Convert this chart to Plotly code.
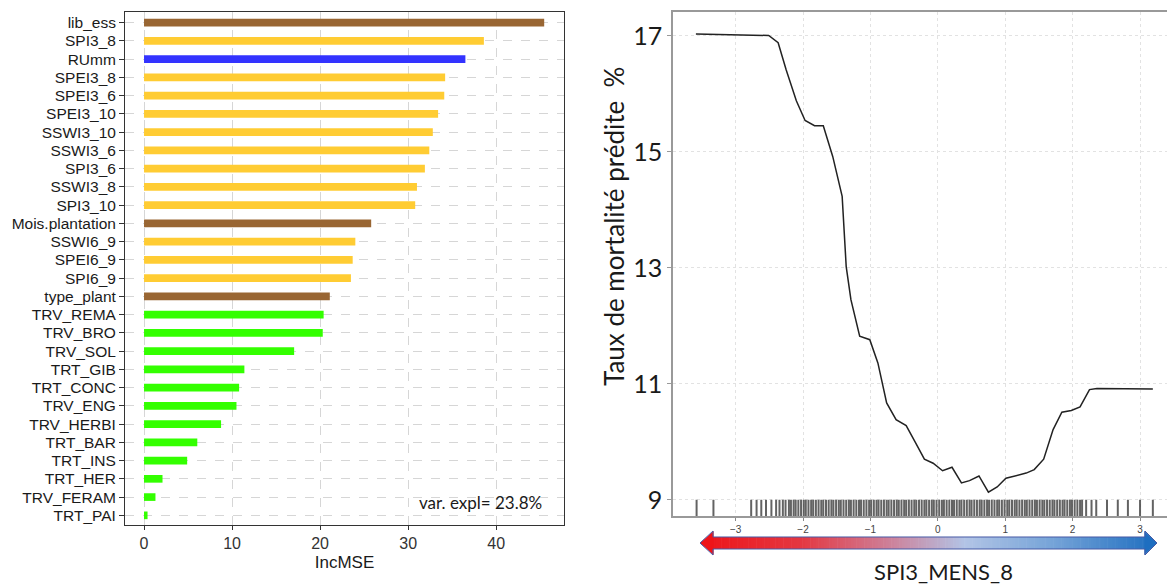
import plotly.graph_objects as go

# ---------------- data: left panel (variable importance) ----------------
variables = ["lib_ess", "SPI3_8", "RUmm", "SPEI3_8", "SPEI3_6", "SPEI3_10", "SSWI3_10",
             "SSWI3_6", "SPI3_6", "SSWI3_8", "SPI3_10", "Mois.plantation", "SSWI6_9",
             "SPEI6_9", "SPI6_9", "type_plant", "TRV_REMA", "TRV_BRO", "TRV_SOL", "TRT_GIB",
             "TRT_CONC", "TRV_ENG", "TRV_HERBI", "TRT_BAR", "TRT_INS", "TRT_HER",
             "TRV_FERAM", "TRT_PAI"]
incmse = [45.45, 38.6, 36.5, 34.2, 34.1, 33.4, 32.8, 32.4, 31.9, 31.0, 30.8, 25.8, 24.0,
          23.7, 23.5, 21.1, 20.4, 20.3, 17.05, 11.4, 10.8, 10.5, 8.75, 6.05, 4.9, 2.1,
          1.3, 0.4]
groups = ["site", "climat", "sol", "climat", "climat", "climat", "climat", "climat",
          "climat", "climat", "climat", "site", "climat", "climat", "climat", "site",
          "travaux", "travaux", "travaux", "travaux", "travaux", "travaux", "travaux",
          "travaux", "travaux", "travaux", "travaux", "travaux"]
group_colors = {"site": "#996633", "climat": "#FFCC33", "sol": "#3333FF", "travaux": "#33FF00"}
x_ticks_left = [0, 10, 20, 30, 40]
var_expl_text = "var. expl= 23.8%"

# ---------------- data: right panel (partial dependence) ----------------
spi_x = [-3.59, -3.19, -2.84, -2.51, -2.37, -2.25, -2.10, -1.97, -1.83, -1.70, -1.56,
         -1.42, -1.36, -1.29, -1.16, -1.01, -0.89, -0.76, -0.62, -0.47, -0.33, -0.20,
         -0.07, 0.07, 0.21, 0.35, 0.47, 0.61, 0.75, 0.88, 1.01, 1.16, 1.31, 1.43, 1.57,
         1.71, 1.84, 1.98, 2.11, 2.25, 2.36, 3.19]
mort_y = [17.03, 17.02, 17.005, 17.005, 16.88, 16.41, 15.88, 15.54, 15.45, 15.45, 14.92,
          14.23, 13.02, 12.45, 11.82, 11.76, 11.36, 10.67, 10.38, 10.28, 9.98, 9.70,
          9.63, 9.50, 9.56, 9.29, 9.33, 9.41, 9.13, 9.22, 9.37, 9.41, 9.46, 9.52, 9.70,
          10.21, 10.51, 10.54, 10.60, 10.90, 10.92, 10.91]
rug_x = [-3.58, -3.33, -2.77, -2.69, -2.62, -2.55, -2.47, -2.40, -2.35, -2.30, -2.26,
         -2.21, -2.18, -2.14, -2.11, -2.07, -2.03, -1.99, -1.96, -1.92, -1.88, -1.85,
         -1.81, -1.77, -1.73, -1.70, -1.66, -1.62, -1.58, -1.55, -1.51, -1.47, -1.44,
         -1.40, -1.36, -1.32, -1.29, -1.25, -1.21, -1.17, -1.14, -1.10, -1.06, -1.02,
         -0.99, -0.95, -0.91, -0.88, -0.84, -0.80, -0.76, -0.73, -0.69, -0.65, -0.61,
         -0.58, -0.54, -0.50, -0.47, -0.43, -0.39, -0.35, -0.32, -0.28, -0.24, -0.20,
         -0.17, -0.13, -0.09, -0.06, -0.02, 0.02, 0.06, 0.09, 0.13, 0.17, 0.21, 0.24,
         0.28, 0.32, 0.35, 0.39, 0.43, 0.47, 0.50, 0.54, 0.58, 0.62, 0.65, 0.69, 0.73,
         0.76, 0.80, 0.84, 0.88, 0.91, 0.95, 0.99, 1.03, 1.06, 1.10, 1.14, 1.17, 1.21,
         1.25, 1.29, 1.32, 1.36, 1.40, 1.44, 1.47, 1.51, 1.55, 1.58, 1.62, 1.66, 1.70,
         1.73, 1.77, 1.81, 1.85, 1.88, 1.92, 1.96, 1.99, 2.03, 2.07, 2.11, 2.14, 2.20,
         2.28, 2.35, 2.51, 2.67, 2.82, 3.00, 3.19]
x_ticks_right = [-3, -2, -1, 0, 1, 2, 3]
y_ticks_right = [9, 11, 13, 15, 17]
y_title_right = "Taux de mortalité prédite  %"
x_title_right = "SPI3_MENS_8"

# ---------------- figure ----------------
W, H = 1167, 587


def px(x):
    return x / W


def py(y):
    return 1 - y / H


fig = go.Figure()

fig.add_trace(go.Bar(
    x=incmse, y=variables, orientation="h",
    marker=dict(color=[group_colors[g] for g in groups], line=dict(width=0)),
    width=0.42, xaxis="x", yaxis="y", hoverinfo="skip", showlegend=False,
))

rug_lx, rug_ly = [], []
y_lo = 8.72
for v in rug_x:
    rug_lx += [v, v, None]
    rug_ly += [y_lo, 9.0, None]
fig.add_trace(go.Scatter(
    x=rug_lx, y=rug_ly, mode="lines", line=dict(color="rgba(60,60,60,0.8)", width=2),
    xaxis="x2", yaxis="y2", hoverinfo="skip", showlegend=False,
))

fig.add_trace(go.Scatter(
    x=spi_x, y=mort_y, mode="lines", line=dict(color="#222222", width=1.5),
    xaxis="x2", yaxis="y2", hoverinfo="skip", showlegend=False,
))

cal_font = "Lato, Open Sans, sans-serif"

fig.update_layout(
    width=W, height=H,
    margin=dict(l=0, r=0, t=0, b=0),
    paper_bgcolor="white", plot_bgcolor="white",
    font=dict(family="Liberation Sans, Arial, sans-serif", color="#1a1a1a"),
    xaxis=dict(
        domain=[px(125), px(564)], anchor="y",
        range=[-2.16, 47.7], tickvals=x_ticks_left, ticks="outside", ticklen=4,
        tickcolor="#333333", tickfont=dict(size=16, color="#333333"),
        showline=True, linecolor="#333333", linewidth=1, mirror=True,
        showgrid=True, gridcolor="#d6d6d6", griddash="dash", gridwidth=1,
        zeroline=False,
        title=dict(text="IncMSE", font=dict(size=17, color="#1a1a1a"), standoff=4),
    ),
    yaxis=dict(
        domain=[py(525), py(12)], anchor="x",
        type="category", categoryorder="array", categoryarray=variables,
        tickmode="array", tickvals=variables, ticktext=variables,
        range=[len(variables) - 0.47, -0.58],
        ticks="outside", ticklen=5, tickcolor="#333333",
        tickfont=dict(size=15.5, color="#1a1a1a"),
        showline=True, linecolor="#333333", linewidth=1, mirror=True,
        showgrid=True, gridcolor="#d6d6d6", griddash="dash", gridwidth=1,
        zeroline=False,
    ),
    xaxis2=dict(
        domain=[px(673), 1.0], anchor="y2",
        range=[-3.93, 3.40], tickvals=x_ticks_right, ticks="outside", ticklen=3,
        tickcolor="#888888", tickfont=dict(size=10, color="#444444"),
        showline=True, linecolor="#999999", linewidth=1.5, mirror=True,
        showgrid=True, gridcolor="#e2e2e2", griddash="dot", gridwidth=1,
        zeroline=False,
    ),
    yaxis2=dict(
        domain=[py(516), py(12)], anchor="x2",
        range=[y_lo, 17.41], tickvals=y_ticks_right, ticks="outside", ticklen=4,
        tickcolor="#999999", tickfont=dict(size=25, color="#1a1a1a", family=cal_font),
        showline=True, linecolor="#999999", linewidth=1.5, mirror=False,
        showgrid=True, gridcolor="#e2e2e2", griddash="dot", gridwidth=1,
        zeroline=False,
    ),
)

annotations = [
    dict(text=var_expl_text, x=px(544), y=py(502), xref="paper", yref="paper",
         xanchor="right", yanchor="middle", showarrow=False,
         font=dict(size=17, color="#1a1a1a", family=cal_font)),
    dict(text=y_title_right, x=px(614), y=py(227), xref="paper", yref="paper",
         xanchor="center", yanchor="middle", textangle=-90, showarrow=False,
         font=dict(size=26, color="#1a1a1a", family=cal_font)),
    dict(text=x_title_right, x=px(943), y=py(571), xref="paper", yref="paper",
         xanchor="center", yanchor="middle", showarrow=False,
         font=dict(size=22, color="#1a1a1a", family=cal_font)),
]
fig.update_layout(annotations=annotations)

# ---------------- decorative gradient arrow under right x-axis ----------------
stops = [(0.0, (238, 20, 25)), (0.22, (228, 55, 65)), (0.42, (205, 130, 155)),
         (0.58, (178, 196, 230)), (0.78, (115, 162, 215)), (1.0, (30, 110, 192))]


def grad(t):
    for (t0, c0), (t1, c1) in zip(stops[:-1], stops[1:]):
        if t <= t1:
            f = (t - t0) / (t1 - t0) if t1 > t0 else 0
            return "rgb(%d,%d,%d)" % tuple(round(a + (b - a) * f) for a, b in zip(c0, c1))
    return "rgb(%d,%d,%d)" % stops[-1][1]


shapes = []
ax0, ax1 = 700, 1157
hx0, hx1 = 713, 1145
yc, bh, hh = 543, 6, 12
n = 160
for i in range(n):
    xa = hx0 + (hx1 - hx0) * i / n
    xb = hx0 + (hx1 - hx0) * (i + 1) / n + 0.6
    t = ((xa + xb) / 2 - ax0) / (ax1 - ax0)
    shapes.append(dict(type="rect", xref="paper", yref="paper",
                       x0=px(xa), x1=px(xb), y0=py(yc + bh), y1=py(yc - bh),
                       fillcolor=grad(t), line=dict(width=0)))


def P(x, y):
    return "%f,%f" % (px(x), py(y))


shapes.append(dict(type="path", xref="paper", yref="paper",
                   path="M %s L %s L %s Z" % (P(ax0, yc), P(hx0 + 0.6, yc - hh), P(hx0 + 0.6, yc + hh)),
                   fillcolor=grad(0.0), line=dict(width=0)))
shapes.append(dict(type="path", xref="paper", yref="paper",
                   path="M %s L %s L %s Z" % (P(ax1, yc), P(hx1 - 0.6, yc - hh), P(hx1 - 0.6, yc + hh)),
                   fillcolor=grad(1.0), line=dict(width=0)))
outline = "M %s L %s L %s L %s L %s L %s L %s L %s L %s L %s Z" % (
    P(ax0, yc), P(hx0, yc - hh), P(hx0, yc - bh), P(hx1, yc - bh), P(hx1, yc - hh),
    P(ax1, yc), P(hx1, yc + hh), P(hx1, yc + bh), P(hx0, yc + bh), P(hx0, yc + hh))
shapes.append(dict(type="path", xref="paper", yref="paper", path=outline,
                   line=dict(color="rgb(70,90,165)", width=1)))
fig.update_layout(shapes=shapes)

fig.write_html("out.html")
